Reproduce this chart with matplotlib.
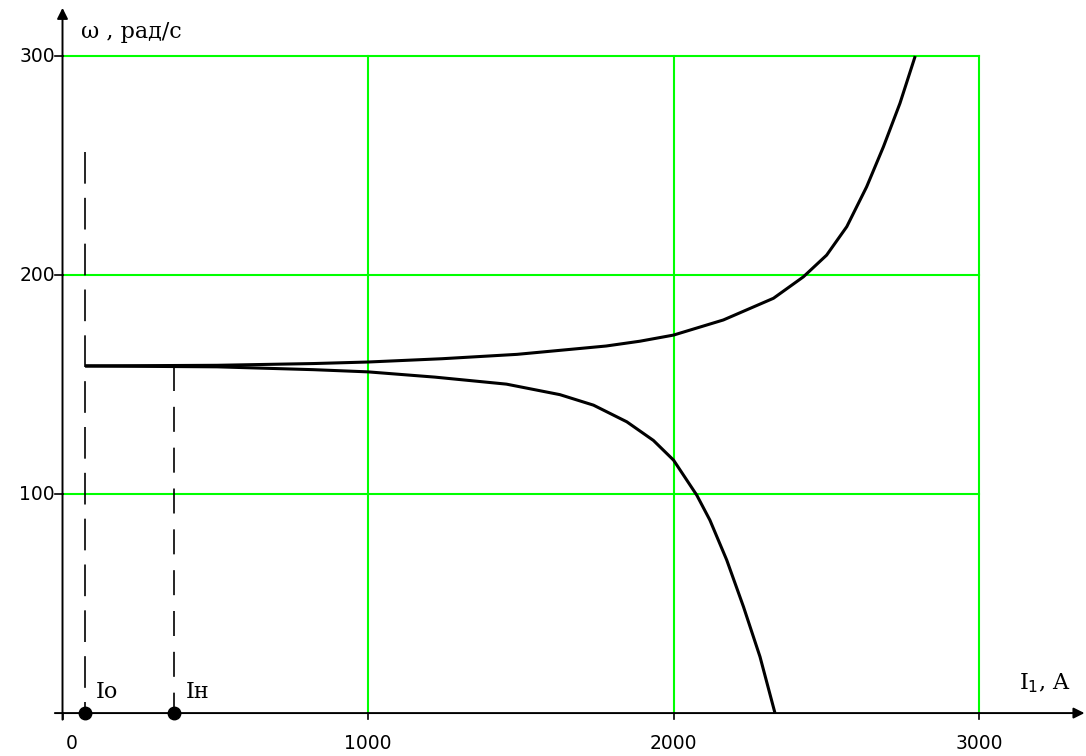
import matplotlib
matplotlib.use("Agg")
import matplotlib.pyplot as plt

# Характеристики ω(I1)
upper_I = [74, 506, 822, 1000, 1242, 1488, 1779, 1890, 2000, 2163, 2327, 2425,
           2501, 2567, 2632, 2687, 2741, 2791]
upper_w = [158.5, 158.8, 159.6, 160.3, 161.8, 163.8, 167.6, 169.8, 172.6, 179.5,
           189.4, 199.2, 209.1, 222.1, 240.3, 258.6, 278.4, 300]

lower_I = [74, 506, 822, 1000, 1219, 1453, 1628, 1738, 1847, 1934, 2000, 2076,
           2119, 2174, 2229, 2283, 2332]
lower_w = [158.5, 158.1, 156.8, 155.8, 153.4, 150.2, 145.4, 140.6, 133.0, 124.5,
           115.5, 99.5, 88.1, 69.9, 48.5, 25.7, 0]

I0 = 74
In = 364
w0 = 158.5
I0_top = 256

x_ticks = [0, 1000, 2000, 3000]
y_ticks = [100, 200, 300]

green = "#00ff00"

fig = plt.figure(figsize=(10.86, 7.56), dpi=100)
ax = fig.add_axes([0, 0, 1, 1])
ax.set_xlim(-204.6, 3350)
ax.set_ylim(-19.6, 325.6)
ax.axis("off")

# Сетка
for x in x_ticks[1:]:
    ax.plot([x, x], [0, 300], color=green, lw=1.5, zorder=1)
for y in y_ticks:
    ax.plot([0, 3000], [y, y], color=green, lw=1.5, zorder=1)

# Оси со стрелками
ax.annotate("", xy=(3345, 0), xytext=(-25, 0),
            arrowprops=dict(arrowstyle="-|>", color="black", lw=1.4,
                            mutation_scale=16, shrinkA=0, shrinkB=0), zorder=3)
ax.annotate("", xy=(0, 322), xytext=(0, -3),
            arrowprops=dict(arrowstyle="-|>", color="black", lw=1.4,
                            mutation_scale=16, shrinkA=0, shrinkB=0), zorder=3)

# Засечки и подписи
for x in x_ticks:
    ax.plot([x, x], [0, -2.5], color="black", lw=1.2, zorder=3)
ax.text(30, -14, "0", ha="center", va="center", fontsize=13.5, family="DejaVu Sans")
for x in x_ticks[1:]:
    ax.text(x, -14, str(x), ha="center", va="center", fontsize=13.5, family="DejaVu Sans")
for y in y_ticks:
    ax.plot([-25, 0], [y, y], color="black", lw=1.2, zorder=3)
    ax.text(-25, y, str(y), ha="right", va="center", fontsize=13.5, family="DejaVu Sans")

# Кривые
ax.plot(upper_I, upper_w, color="black", lw=2.2, zorder=4,
        solid_joinstyle="round", solid_capstyle="butt")
ax.plot(lower_I, lower_w, color="black", lw=2.2, zorder=4,
        solid_joinstyle="round", solid_capstyle="butt")

# Штриховые линии
ax.plot([I0, I0], [I0_top, 0], color="black", lw=1.2,
        linestyle=(0, (19, 8.5)), zorder=4)
ax.plot([In, In], [w0, 0], color="black", lw=1.2,
        linestyle=(0, (15, 9.5)), zorder=4)

ax.plot([I0, In], [0, 0], "o", color="black", ms=9, zorder=5)

ax.text(110, 9.5, "Iо", fontsize=16, family="DejaVu Serif", va="center")
ax.text(402, 9.5, "Iн", fontsize=16, family="DejaVu Serif", va="center")

ax.text(62, 311, "ω , рад/с", fontsize=16, family="DejaVu Serif", va="center")
ax.text(3130, 13.5, r"I$_1$, A", fontsize=16, family="DejaVu Serif", va="center")

plt.savefig("out.png", dpi=100)
plt.close()
